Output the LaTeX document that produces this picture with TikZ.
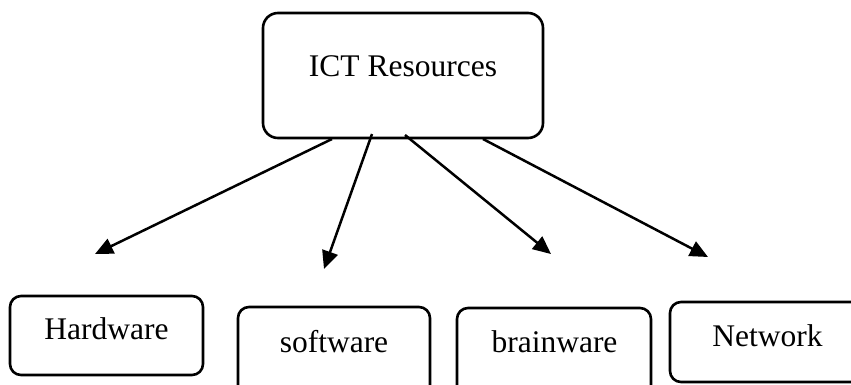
\documentclass[tikz,border=0pt]{standalone}
\usepackage{fontspec}
\setmainfont{Liberation Serif}
\usetikzlibrary{arrows.meta}
\begin{document}
\begin{tikzpicture}[x=1pt,y=-1pt,
  bigbox/.style={draw, line width=2.6pt, rounded corners=15pt, inner sep=0pt},
  smallbox/.style={draw, line width=2.6pt, rounded corners=11pt, inner sep=0pt},
  lbl/.style={anchor=base, inner sep=0pt, font=\fontsize{31.5}{36}\selectfont},
  conn/.style={line width=2.5pt, -{Triangle[length=18pt,width=16pt]}}]
\clip (0,0) rectangle (851,384);
\fill[white] (0,0) rectangle (851,384);
% boxes
\node[bigbox, minimum width=280pt, minimum height=125pt] (ict) at (403,75.5) {};
\node[smallbox, minimum width=193pt, minimum height=79pt] (hw) at (106.5,335.5) {};
\node[smallbox, minimum width=192pt, minimum height=92pt] (sw) at (334,353) {};
\node[smallbox, minimum width=194pt, minimum height=92pt] (bw) at (554,354) {};
\node[smallbox, minimum width=196pt, minimum height=80pt] (nw) at (768,342) {};
% labels
\node[lbl] (ictl) at (403,76) {ICT Resources};
\node[lbl] (hwl) at (106.5,339) {Hardware};
\node[lbl] (swl) at (334,352) {software};
\node[lbl] (bwl) at (554.5,352) {brainware};
\node[lbl] (nwl) at (767.5,346) {Network};
% arrow ends
\coordinate (s1) at (332,139);
\coordinate (s2) at (372,134);
\coordinate (s3) at (405,135);
\coordinate (s4) at (483,139);
\coordinate (t1) at (95,254);
\coordinate (t2) at (324,269);
\coordinate (t3) at (551,254);
\coordinate (t4) at (708,257);
\draw[conn] (s1) -- (t1);
\draw[conn] (s2) -- (t2);
\draw[conn] (s3) -- (t3);
\draw[conn] (s4) -- (t4);
\end{tikzpicture}
\end{document}
